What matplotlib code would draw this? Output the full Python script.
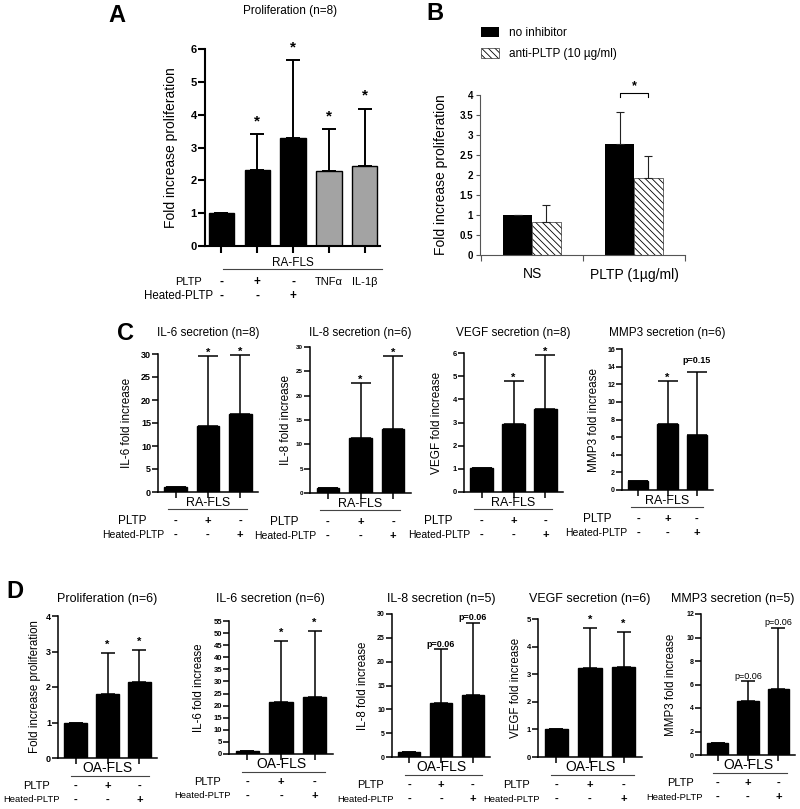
import numpy as np
import matplotlib
matplotlib.use('Agg')
import matplotlib.pyplot as plt
from matplotlib import transforms

plt.rcParams['font.family'] = ['Liberation Sans', 'DejaVu Sans']
plt.rcParams['hatch.linewidth'] = 0.6

W, H = 800, 809

# --- panel A: RA-FLS proliferation
a_vals = [1.0, 2.3, 3.28, 2.28, 2.43]
a_err = [0, 1.11, 2.37, 1.27, 1.75]
a_colors = ['black', 'black', 'black', '#a3a3a3', '#a3a3a3']
a_annot = ['', '*', '*', '*', '*']
a_pltp = ['-', '+', '-', 'TNFα', 'IL-1β']
a_heated = ['-', '-', '+', '', '']

# --- panel B: inhibitor
b_groups = ['NS', 'PLTP (1µg/ml)']
b_noinh = [0.99, 2.78]
b_noinh_err = [0.02, 0.8]
b_anti = [0.83, 1.92]
b_anti_err = [0.43, 0.56]

# --- panel C: RA-FLS secretion
c_titles = ['IL-6 secretion (n=8)', 'IL-8 secretion (n=6)', 'VEGF secretion (n=8)', 'MMP3 secretion (n=6)']
c_ylabels = ['IL-6 fold increase', 'IL-8 fold increase', 'VEGF fold increase', 'MMP3 fold increase']
c_vals = [[1.1, 14.4, 17.0], [1.1, 11.3, 13.1], [1.02, 2.92, 3.57], [1.0, 7.5, 6.25]]
c_err = [[0, 15.2, 12.8], [0, 11.3, 15.1], [0, 1.87, 2.33], [0, 4.87, 7.15]]
c_annot = [['', '*', '*'], ['', '*', '*'], ['', '*', '*'], ['', '*', 'p=0.15']]
c_ymax = [30, 30, 6, 16]
c_ystep = [5, 5, 1, 2]

# --- panel D: OA-FLS
d_titles = ['Proliferation (n=6)', 'IL-6 secretion (n=6)', 'IL-8 secretion (n=5)', 'VEGF secretion (n=6)', 'MMP3 secretion (n=5)']
d_ylabels = ['Fold increase proliferation', 'IL-6 fold increase', 'IL-8 fold increase', 'VEGF fold increase', 'MMP3 fold increase']
d_vals = [[1.0, 1.8, 2.13], [1.1, 21.5, 23.5], [1.05, 11.4, 13.1], [1.03, 3.23, 3.27], [1.02, 4.56, 5.6]]
d_err = [[0, 1.16, 0.91], [0, 25.3, 27.5], [0, 11.2, 15.1], [0, 1.46, 1.25], [0, 1.7, 5.25]]
d_annot = [['', '*', '*'], ['', '*', '*'], ['', 'p=0.06', 'p=0.06'], ['', '*', '*'], ['', 'p=0.06', 'p=0.06']]
d_ymax = [4, 55, 30, 5, 12]
d_ystep = [1, 5, 5, 1, 2]

pltp_row = ['-', '+', '-']
heated_row = ['-', '-', '+']


def rect(box):
    x0, y0, x1, y1 = box
    return [x0 / W, 1 - y1 / H, (x1 - x0) / W, (y1 - y0) / H]


fig = plt.figure(figsize=(8, 8.09), dpi=100)


def below(ax, px):
    blend = transforms.blended_transform_factory(ax.transData, ax.transAxes)
    return transforms.offset_copy(blend, fig=fig, x=0, y=-px, units='dots')


def prism_axes(box, n, ymax, ystep, tick_size, ylabel, ylab_px, ylab_size, lw=1.1, xlim=(-0.55, 2.55)):
    ax = fig.add_axes(rect(box))
    ax.set_ylim(0, ymax)
    ax.set_xlim(*xlim)
    ax.set_yticks(np.arange(0, ymax + ystep / 2, ystep))
    ax.set_xticks(range(n))
    ax.set_xticklabels([])
    for s in ['top', 'right']:
        ax.spines[s].set_visible(False)
    for s in ['left', 'bottom']:
        ax.spines[s].set_linewidth(lw)
    ax.tick_params(width=lw, length=4, pad=1)
    ax.tick_params(axis='y', labelsize=tick_size)
    plt.setp(ax.get_yticklabels(), fontweight='bold')
    ax.set_ylabel(ylabel, fontsize=ylab_size)
    ax.yaxis.set_label_coords(-ylab_px / (box[2] - box[0]), 0.5)
    return ax


def draw_bars(ax, vals, errs, colors, annots, star_size, p_size, ann_px, capsize, p_bold=True, lw=1.1):
    x = np.arange(len(vals))
    ax.bar(x, vals, width=0.7, color=colors, edgecolor='black', linewidth=1)
    eb = ax.errorbar(x, vals, yerr=[np.zeros(len(errs)), errs], fmt='none', ecolor='black',
                     elinewidth=lw, capsize=capsize, capthick=lw)
    for art in eb.lines[1] + eb.lines[2]:
        art.set_clip_on(False)
    for xi, v, e, t in zip(x, vals, errs, annots):
        if not t:
            continue
        if t == '*':
            ax.annotate(t, (xi, v + e), xytext=(0, ann_px[0] * 0.72), textcoords='offset points',
                        ha='center', va='center', fontsize=star_size, fontweight='bold')
        else:
            ax.annotate(t, (xi, v + e), xytext=(0, ann_px[1] * 0.72), textcoords='offset points',
                        ha='center', va='center', fontsize=p_size,
                        fontweight='bold' if p_bold else 'normal')


def row_labels(ax, group, span, rows, offs, label_x, sizes):
    g_px, line_px, r1_px, r2_px = offs
    ax.text(np.mean(range(len(rows[0]))), 0, group, transform=below(ax, g_px),
            ha='center', va='center', fontsize=sizes[0])
    ax.plot(span, [0, 0], transform=below(ax, line_px), color='#444444', lw=0.8, clip_on=False)
    for i, (p, h) in enumerate(zip(rows[0], rows[1])):
        bold = p in ['+', '-']
        ax.text(i, 0, p, transform=below(ax, r1_px), ha='center', va='center',
                fontsize=sizes[1] if bold else sizes[1] - 0.5, fontweight='bold' if bold else 'normal')
        if h:
            ax.text(i, 0, h, transform=below(ax, r2_px), ha='center', va='center',
                    fontsize=sizes[1], fontweight='bold')
    ax.text(label_x[0], 0, 'PLTP', transform=below(ax, r1_px), ha='right', va='center',
            fontsize=sizes[2])
    ax.text(label_x[1], 0, 'Heated-PLTP', transform=below(ax, r2_px), ha='right', va='center',
            fontsize=sizes[3])


def label(x, y, s, **kw):
    fig.text(x / W, 1 - y / H, s, ha='center', va='center', **kw)


# ---------- A
box_a = (205, 49, 380, 246)
ax = prism_axes(box_a, 5, 6, 1, 8, 'Fold increase proliferation', 27, 10, lw=1.5, xlim=(-0.45, 4.42))
ax.tick_params(length=5)
draw_bars(ax, a_vals, a_err, a_colors, a_annot, 11, 8, (13, 10), 5, lw=1.4)
row_labels(ax, 'RA-FLS', [0.05, 4.47], [a_pltp, a_heated], (17, 23, 36, 50), (-0.55, -0.22), (8.5, 8.5, 8, 8.3))
label(290, 11, 'Proliferation (n=8)', fontsize=8.5)
label(117, 15, 'A', fontsize=17, fontweight='bold')

# ---------- B
axb = fig.add_axes(rect((480, 95, 685, 255)))
xb = np.arange(len(b_groups))
bw = 0.28
h1 = axb.bar(xb - bw / 2, b_noinh, bw, color='black', label='no inhibitor')
h2 = axb.bar(xb + bw / 2, b_anti, bw, color='white', edgecolor='black', hatch='\\\\\\\\\\',
             linewidth=0.4, label='anti-PLTP (10 µg/ml)')
axb.errorbar(xb - bw / 2, b_noinh, yerr=[np.zeros(2), b_noinh_err], fmt='none', ecolor='#222222',
             elinewidth=0.8, capsize=3, capthick=0.8)
axb.errorbar(xb + bw / 2, b_anti, yerr=[np.zeros(2), b_anti_err], fmt='none', ecolor='#222222',
             elinewidth=0.8, capsize=3, capthick=0.8)
axb.set_xlim(-0.51, 1.5)
axb.set_ylim(0, 4)
axb.set_yticks(np.arange(0, 4.01, 0.5))
axb.set_yticklabels(['%g' % v for v in np.arange(0, 4.01, 0.5)])
plt.setp(axb.get_yticklabels(), fontweight='bold')
axb.set_xticks(xb)
axb.set_xticklabels(b_groups, fontsize=10)
axb.set_xticks([-0.5, 0.5, 1.5], minor=True)
axb.tick_params(axis='x', which='major', length=0, pad=9)
axb.tick_params(axis='x', which='minor', length=4, width=0.8, color='#555555')
axb.tick_params(axis='y', labelsize=7, length=3, width=0.8, pad=2, color='#555555')
for s in ['top', 'right']:
    axb.spines[s].set_visible(False)
for s in ['left', 'bottom']:
    axb.spines[s].set_linewidth(0.8)
    axb.spines[s].set_color('#555555')
axb.set_ylabel('Fold increase proliferation', fontsize=10)
axb.yaxis.set_label_coords(-32 / 205, 0.5)
axb.plot([1 - bw / 2, 1 - bw / 2, 1 + bw / 2, 1 + bw / 2], [3.95, 4.05, 4.05, 3.95],
         color='black', lw=0.8, clip_on=False)
axb.text(1, 4.22, '*', ha='center', va='center', fontsize=9, fontweight='bold')
axb.legend(handles=[h1, h2], loc='upper left', bbox_to_anchor=(481 / W, 1 - 27 / H),
           bbox_transform=fig.transFigure, frameon=False, fontsize=8.5, handlelength=1.5,
           handleheight=0.95, handletextpad=0.9, labelspacing=0.75, borderpad=0, borderaxespad=0)
label(435, 14, 'B', fontsize=17, fontweight='bold')

# ---------- C
c_boxes = [(158, 354, 258, 492), (310, 347, 411, 493), (464, 353, 563, 492), (622, 349, 713, 490)]
c_tick = [6.5, 4.5, 5.5, 5]
c_ylab_px = [25, 18, 21, 22]
for i in range(4):
    ax = prism_axes(c_boxes[i], 3, c_ymax[i], c_ystep[i], c_tick[i], c_ylabels[i], c_ylab_px[i], 8.5)
    draw_bars(ax, c_vals[i], c_err[i], ['black'] * 3, c_annot[i], 8, 6.5, (3, 11), 7)
    row_labels(ax, 'RA-FLS', [-0.25, 2.2], [pltp_row, heated_row], (11, 17, 29, 43), (-0.9, -0.36),
               (9, 8, 8.5, 7.5))
    label((c_boxes[i][0] + c_boxes[i][2]) / 2, 333, c_titles[i], fontsize=8.5)
label(125, 333, 'C', fontsize=17, fontweight='bold')

# ---------- D
d_boxes = [(58, 616, 157, 758), (229, 621, 333, 754), (392, 614, 490, 757), (538, 619, 642, 757), (701, 614, 795, 755)]
d_tick = [6.5, 5.5, 5, 5.5, 5]
d_ylab_px = [17, 24, 23, 16, 24]
d_pbold = [True, True, True, True, False]
d_title_x = [107, 270, 441, 590, 733]
for i in range(5):
    ax = prism_axes(d_boxes[i], 3, d_ymax[i], d_ystep[i], d_tick[i], d_ylabels[i], d_ylab_px[i], 8.3)
    draw_bars(ax, d_vals[i], d_err[i], ['black'] * 3, d_annot[i], 8, 6.5, (8, 5), 5, p_bold=d_pbold[i])
    row_labels(ax, 'OA-FLS', [-0.15, 2.3], [pltp_row, heated_row], (10, 18, 28, 42), (-0.8, -0.5),
               (10, 8, 8, 6.8))
    label(d_title_x[i], 599, d_titles[i], fontsize=9)
label(15, 591, 'D', fontsize=17, fontweight='bold')

fig.savefig('out.png', dpi=100)
